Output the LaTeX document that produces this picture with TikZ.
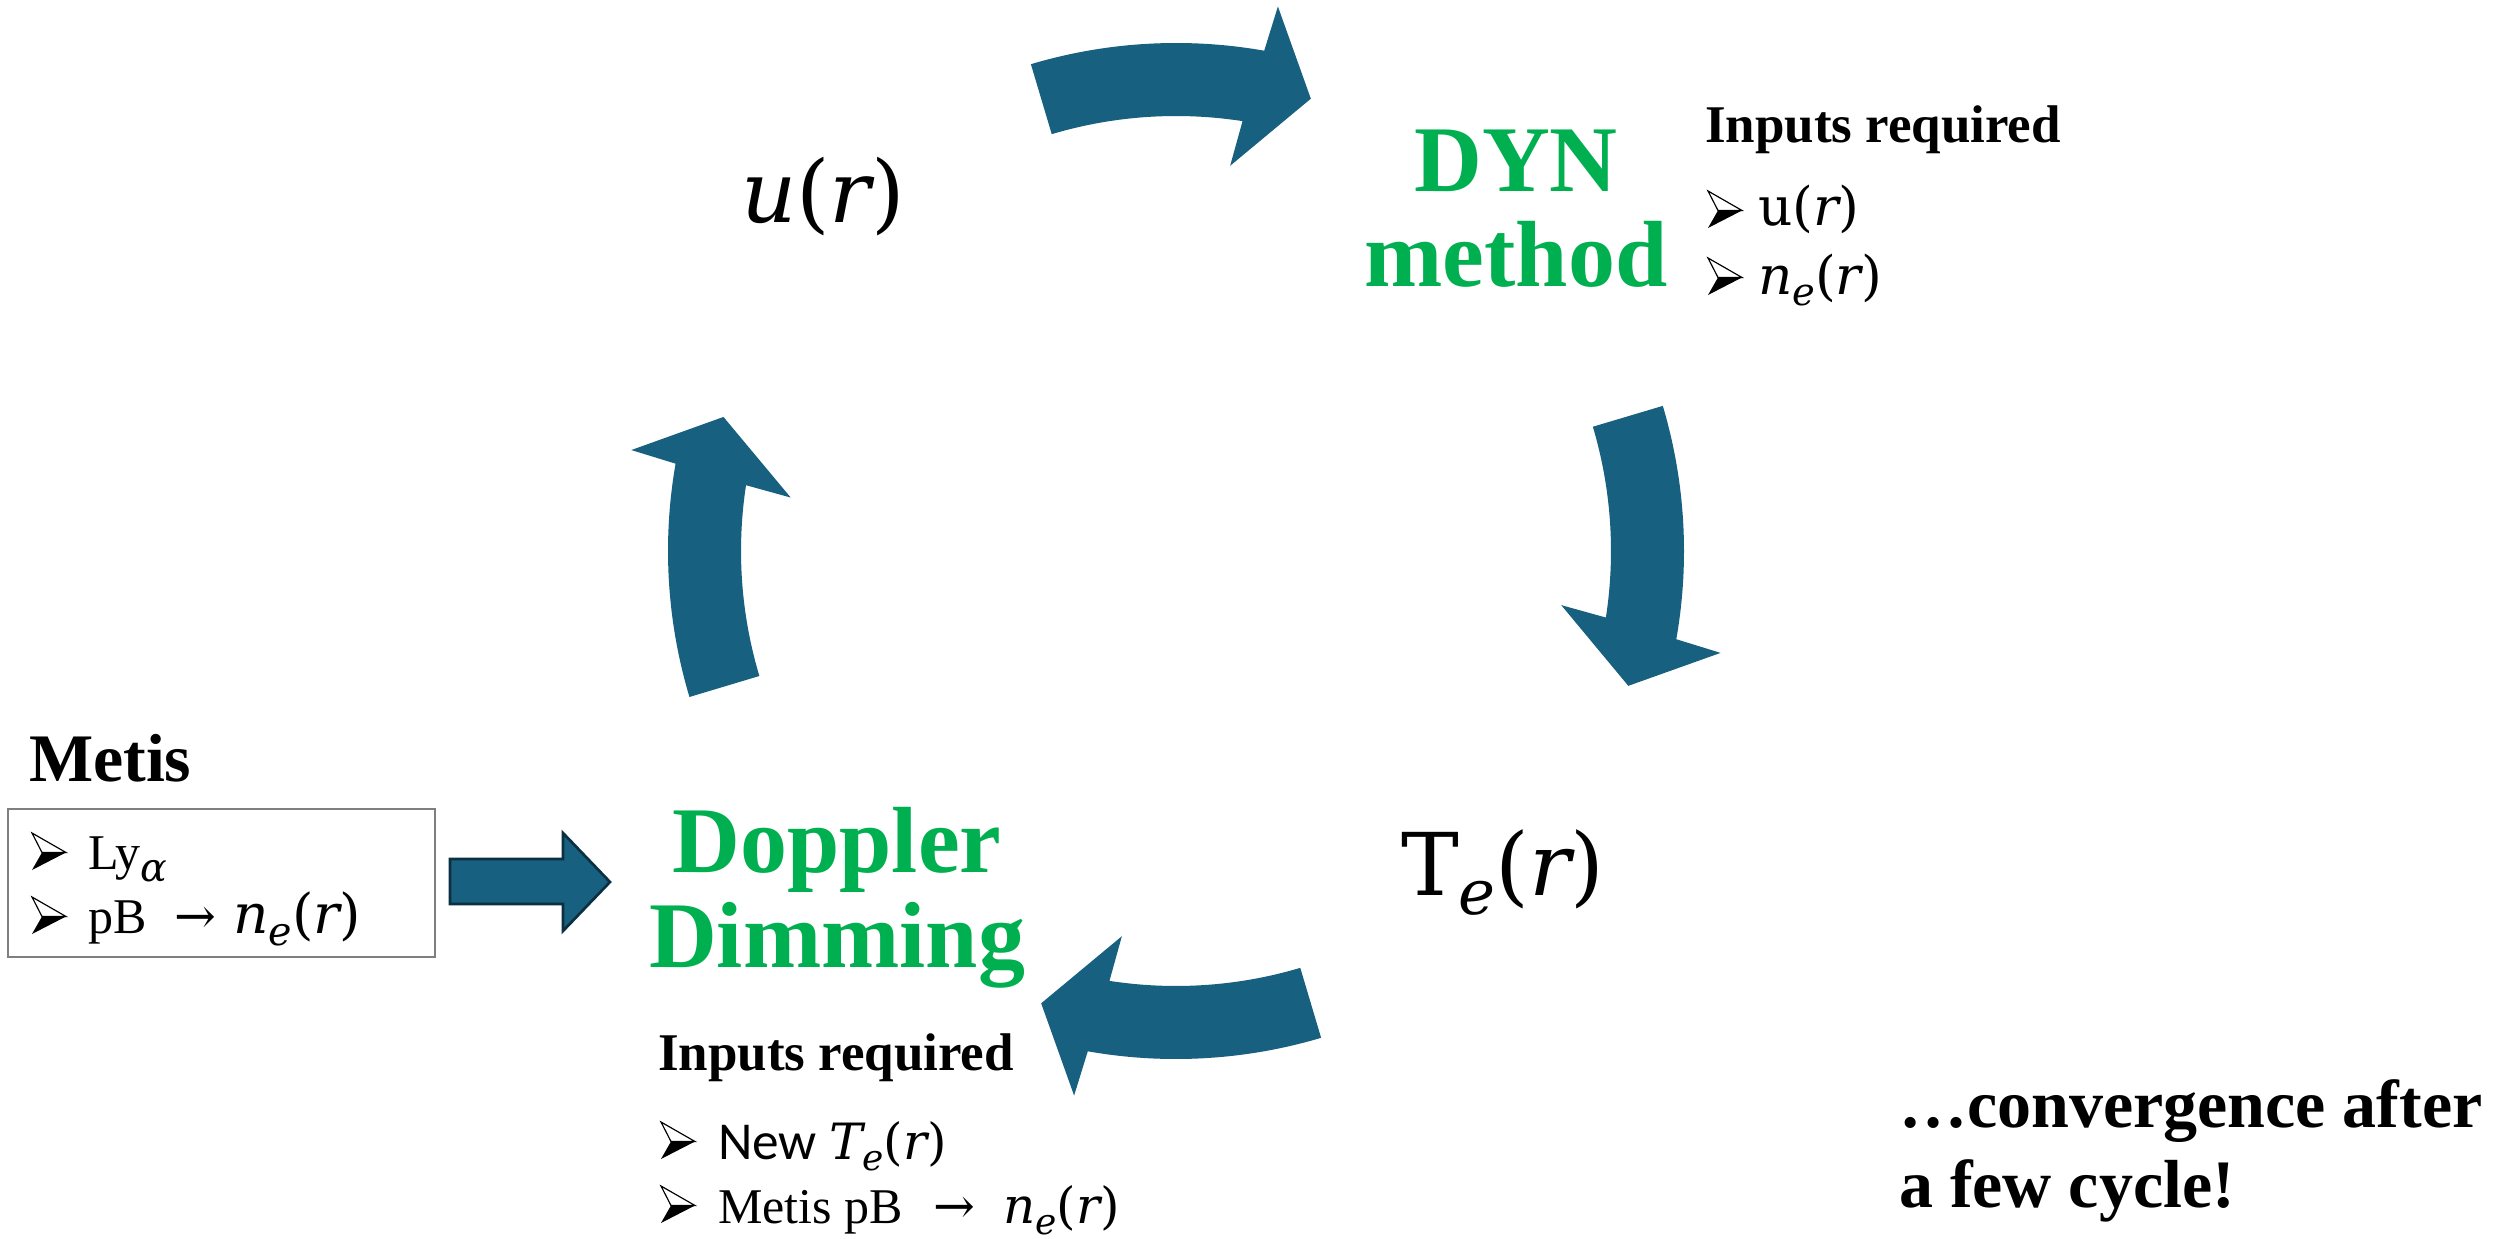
\documentclass[tikz,border=0pt]{standalone}
\usepackage{fontspec}
\usepackage{graphicx}
\setmainfont{Liberation Serif}
\newfontfamily\cmb{DejaVu Serif}
\newfontfamily\sansf{Carlito}
\definecolor{cyc}{RGB}{23,96,128}
\definecolor{cycdark}{RGB}{12,48,66}
\definecolor{grn}{RGB}{0,176,80}
\definecolor{boxgray}{RGB}{127,127,127}
% font size in pt
\newcommand\fs[1]{\fontsize{#1}{#1}\selectfont}
% math-like pieces
\newcommand\mi[1]{{\cmb\itshape #1}}
\newcommand\msb[1]{\raisebox{-0.22em}{\scalebox{0.72}{\mi{#1}}}}
\newcommand\argr{{\cmb(}\mi{r}{\cmb)}}
\newcommand\goesto{{\cmb →}}
\tikzset{
  txt/.style={inner sep=0pt, outer sep=0pt, anchor=base west},
  headline/.style={inner sep=0pt, outer sep=0pt, anchor=base, text=grn, font=\fs{28.2}\bfseries},
  lbl/.style={txt, font=\fs{15.9}\bfseries},
  item/.style={txt, font=\fs{15}},
  bigtxt/.style={txt, font=\fs{20.4}\bfseries},
  arrowhd/.pic={
    \draw[line width=0.35pt, fill=white, line join=miter] (0,37) -- (34,17.5) -- (10,17.5) -- cycle;
    \fill (10,17.5) -- (34,17.5) -- (0,0) -- cycle;
  }
}
\begin{document}
\begin{tikzpicture}[x=0.3pt, y=0.3pt]
  \useasboundingbox (0,0) rectangle (2506,1238);
  \fill[white] (0,0) rectangle (2506,1238);

  % cycle of four curved arrows around a common centre
  \coordinate (C) at (1176,687);
  \begin{scope}[shift={(C)}]
    \foreach \a in {196.7,106.6,16.6,-73.4}{
      \fill[cyc] (\a:508) arc[start angle=\a, end angle=\a-26.6, radius=508]
        -- ({\a-27.2}:554) -- ({\a-33.2}:472) -- ({\a-24.6}:389)
        -- ({\a-25.4}:435) arc[start angle=\a-25.4, end angle=\a, radius=435]
        -- cycle;
    }
  \end{scope}

  % quantities on the cycle
  \node[txt, font=\fs{25.8}] (u) at (741,1016) {\mi{u}\argr};
  \node[txt, font=\fs{26}] (te) at (1401,343) {{\cmb T}\msb{e}\argr};

  % DYN method
  \node[headline] (dyn1) at (1516,1046) {DYN};
  \node[headline] (dyn2) at (1516,951) {method};
  \node[lbl] (dynin) at (1705,1095) {Inputs required};
  \pic at (1708,1010) {arrowhd};
  \node[item, font=\fs{16}] (dyna) at (1758,1012) {{\cmb u}\argr};
  \pic at (1708,943) {arrowhd};
  \node[item, font=\fs{16}] (dynb) at (1758,944) {\mi{n}\msb{e}\argr};

  % Doppler Dimming
  \node[headline] (dd1) at (837,366) {Doppler};
  \node[headline] (dd2) at (837,271) {Dimming};
  \node[lbl] (ddin) at (658,168) {Inputs required};
  \pic at (661,79) {arrowhd};
  \node[item] (dda) at (718,79) {{\sansf\fs{16}New} \mi{T}\msb{e}\argr};
  \pic at (661,15) {arrowhd};
  \node[item] (ddb) at (718,15) {Metis pB\hspace{9.2pt}\goesto\hspace{8.4pt}\mi{n}\msb{e}\argr};

  % Metis data box
  \node[bigtxt] (metis) at (29,457) {Metis};
  \node[draw=boxgray, line width=0.6pt, minimum width=128.1pt, minimum height=44.4pt,
        inner sep=0pt] (mbox) at (221.5,355) {};
  \pic at (32,368) {arrowhd};
  \node[item] (mba) at (88,369) {Ly{\fs{16.5}\msb{α}}};
  \pic at (32,304) {arrowhd};
  \node[item] (mbb) at (88,305) {pB\hspace{8.5pt}\goesto\hspace{5pt}{\fs{16.5}\mi{n}\msb{e}\argr}};

  % block arrow feeding the Metis data in
  \filldraw[fill=cyc, draw=cycdark, line width=0.8pt, line join=miter]
    (450,379) -- (563,379) -- (563,405) -- (610,356) -- (563,307) -- (563,334) -- (450,334) -- cycle;

  % closing remark
  \node[bigtxt] (conv1) at (1899,111) {…convergence after};
  \node[bigtxt] (conv2) at (1899,31) {a few cycle!};
\end{tikzpicture}
\end{document}
